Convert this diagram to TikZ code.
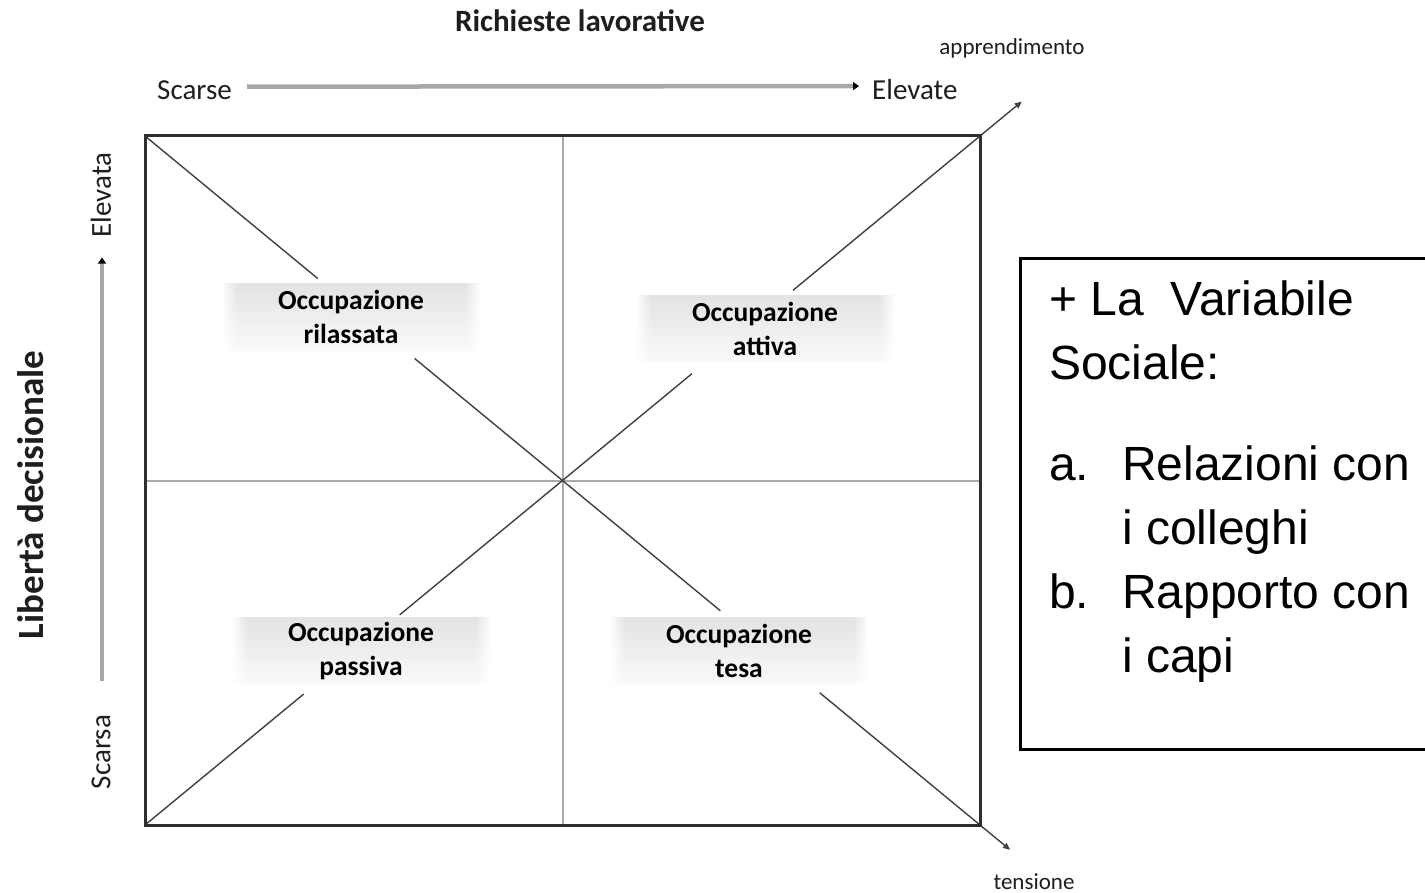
\documentclass[tikz,border=0pt]{standalone}
\usepackage{fontspec}
\setmainfont{Carlito}
\newfontfamily\arialfont{Liberation Sans}
\usetikzlibrary{arrows.meta,calc,fadings}

% soft fade at the left and right edges of the quadrant labels
\pgfdeclarehorizontalshading{edgeshade}{100bp}{color(0bp)=(black); color(25bp)=(black); color(28bp)=(white); color(72bp)=(white); color(75bp)=(black); color(100bp)=(black)}
\pgfdeclarefading{edgefade}{\pgfuseshading{edgeshade}}

\definecolor{framec}{HTML}{2E2E2E}
\definecolor{midc}{HTML}{AAAAAA}
\definecolor{diagc}{HTML}{404040}
\definecolor{axisc}{HTML}{A8A8A8}
\definecolor{txtc}{HTML}{1E1E1E}

\tikzset{
  frameline/.style={draw=framec, line width=3pt},
  midline/.style={draw=midc, line width=2.6pt},
  diagline/.style={draw=diagc, line width=1.4pt},
  tipline/.style={diagline, -{Triangle[length=7pt,width=6pt]}},
  axisarrow/.style={draw=axisc, line width=4.5pt, -{Triangle[length=6pt,width=8pt,fill=black,color=black]}},
  occbox/.style={minimum width=258pt, minimum height=67pt, inner sep=0pt,
    top color=gray!22, middle color=gray!60, bottom color=gray!4,
    path fading=edgefade, align=center, text=black,
    font=\bfseries\fontsize{27.5}{34}\selectfont},
  axislabel/.style={inner sep=0pt, text=txtc, font=\fontsize{29}{31}\selectfont},
  axistitle/.style={inner sep=0pt, text=txtc, font=\bfseries\fontsize{31}{33}\selectfont},
  sidetitle/.style={inner sep=0pt, text=txtc, font=\bfseries\fontsize{37}{39}\selectfont},
  endlabel/.style={inner sep=0pt, text=txtc, font=\fontsize{23}{25}\selectfont},
  socialbox/.style={draw=black, line width=3pt, anchor=north west, minimum width=421pt, minimum height=491pt, inner sep=0pt},
}

\begin{document}
\begin{tikzpicture}[x=1pt,y=-1pt]
\useasboundingbox[fill=white] (0,0) rectangle (1425,893);

% corners and centre of the grid
\coordinate (tl) at (145,136);
\coordinate (tr) at (980,136);
\coordinate (bl) at (145,825);
\coordinate (br) at (980,825);
\coordinate (mt) at (563,136);
\coordinate (mb) at (563,825);
\coordinate (ml) at (145,481);
\coordinate (mr) at (980,481);

% quadrant dividers
\draw[midline] (mt) -- (mb);
\draw[midline] (ml) -- (mr);

% diagonal: relaxed -> strain
\coordinate (d1a) at ($(tl)!0.207!(br)$);
\coordinate (d1b) at ($(tl)!0.323!(br)$);
\coordinate (d1c) at ($(tl)!0.689!(br)$);
\coordinate (d1d) at ($(tl)!0.808!(br)$);
\coordinate (d1e) at ($(tl)!1.036!(br)$);
\draw[diagline] (tl) -- (d1a);
\draw[diagline] (d1b) -- (d1c);
\draw[tipline] (d1d) -- (d1e);

% diagonal: passive -> active
\coordinate (d2a) at ($(bl)!0.19!(tr)$);
\coordinate (d2b) at ($(bl)!0.305!(tr)$);
\coordinate (d2c) at ($(bl)!0.655!(tr)$);
\coordinate (d2d) at ($(bl)!0.776!(tr)$);
\coordinate (d2e) at ($(bl)!1.05!(tr)$);
\draw[diagline] (bl) -- (d2a);
\draw[diagline] (d2b) -- (d2c);
\draw[tipline] (d2d) -- (d2e);

% outer frame
\draw[frameline] (tl) rectangle (br);

% quadrant labels
\node[occbox] (ril) at (351,317) {Occupazione\\rilassata};
\node[occbox] (att) at (765,329) {Occupazione\\attiva};
\node[occbox] (pas) at (361,651) {Occupazione\\passiva};
\node[occbox] (tes) at (739,651) {Occupazione\\tesa};

% horizontal axis
\node[axistitle, anchor=base] (title) at (580,32) {Richieste lavorative};
\node[axislabel, anchor=base west] (scarse) at (157,100) {Scarse};
\node[axislabel, anchor=base west] (elevate) at (872,100) {Elevate};
\draw[axisarrow, shorten <=15pt, shorten >=13pt] ([yshift=4pt]scarse.east) -- ([yshift=4pt]elevate.west);

% vertical axis
\node[sidetitle, rotate=90] (liberta) at (31,495) {Libertà decisionale};
\node[axislabel, rotate=90] (scarsa) at (101,752) {Scarsa};
\node[axislabel, rotate=90] (elevata) at (101,195) {Elevata};
\draw[axisarrow, shorten <=34pt, shorten >=20pt] ([xshift=1pt]scarsa.east) -- ([xshift=1pt]elevata.west);

% diagonal end labels
\node[endlabel] (appr) at (1012,48) {apprendimento};
\node[endlabel] (tens) at (1034,882) {tensione};

% social variable box
\node[socialbox] (social) at (1019,257) {};
\node[anchor=north west, inner sep=0pt, align=left, text=black,
      font=\arialfont\fontsize{48}{64}\selectfont] (socialtext) at (1049,281)
  {+ La\ \ Variabile\\
   Sociale:\\[37pt]
   \makebox[73pt][l]{a.}Relazioni con\\
   \hspace*{73pt}i colleghi\\
   \makebox[73pt][l]{b.}Rapporto con\\
   \hspace*{73pt}i capi};
\end{tikzpicture}
\end{document}
